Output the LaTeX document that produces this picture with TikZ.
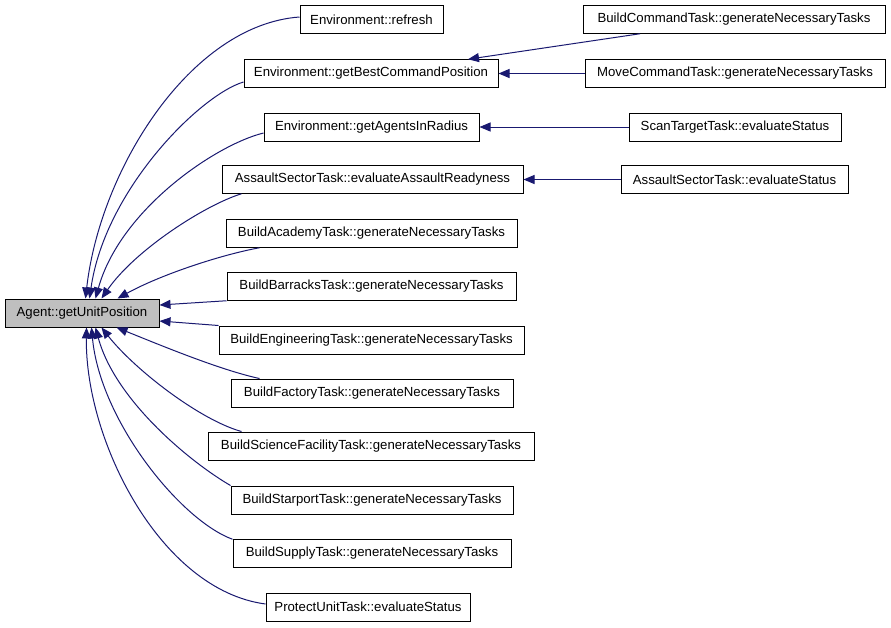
\documentclass[tikz,border=0pt]{standalone}
\usepackage{fontspec}
\setmainfont{Liberation Sans}
\usetikzlibrary{arrows.meta}
\definecolor{edgeblue}{RGB}{25,25,112}
\definecolor{boxgray}{RGB}{191,191,191}
\tikzset{
  box/.style={draw=black, line width=1pt, fill=white, inner sep=0pt, minimum height=27.5pt,
    font=\fontsize{13.2}{15}\selectfont},
  edge/.style={draw=edgeblue, line width=1pt, -{Triangle[length=11pt,width=9pt]}, fill=none},
}
\begin{document}
\begin{tikzpicture}[x=1pt,y=-1pt]
\useasboundingbox (0,0) rectangle (891,627);
% nodes
\node[box, fill=boxgray, minimum width=154pt, minimum height=28pt] (ag) at (82,313) {Agent::getUnitPosition};
\node[box, minimum width=143pt] (ref) at (371.5,19.5) {Environment::refresh};
\node[box, minimum width=254pt] (gbc) at (371,73.5) {Environment::getBestCommandPosition};
\node[box, minimum width=302pt] (bct) at (734,19.5) {BuildCommandTask::generateNecessaryTasks};
\node[box, minimum width=300pt] (mct) at (735,73.5) {MoveCommandTask::generateNecessaryTasks};
\node[box, minimum width=215pt, minimum height=28pt] (air) at (371.5,127) {Environment::getAgentsInRadius};
\node[box, minimum width=301pt] (asr) at (372.5,179.5) {AssaultSectorTask::evaluateAssaultReadyness};
\node[box, minimum width=212pt, minimum height=28pt] (stt) at (735,127) {ScanTargetTask::evaluateStatus};
\node[box, minimum width=227pt] (ase) at (734.5,179.5) {AssaultSectorTask::evaluateStatus};
\node[box, minimum width=291pt] (aca) at (371.5,233.5) {BuildAcademyTask::generateNecessaryTasks};
\node[box, minimum width=289pt] (bar) at (371.5,286.5) {BuildBarracksTask::generateNecessaryTasks};
\node[box, minimum width=305pt, minimum height=28pt] (eng) at (371.5,340) {BuildEngineeringTask::generateNecessaryTasks};
\node[box, minimum width=282pt, minimum height=28pt] (fac) at (372,393) {BuildFactoryTask::generateNecessaryTasks};
\node[box, minimum width=326pt, minimum height=28pt] (sci) at (371,446) {BuildScienceFacilityTask::generateNecessaryTasks};
\node[box, minimum width=282pt, minimum height=28pt] (sta) at (372,500) {BuildStarportTask::generateNecessaryTasks};
\node[box, minimum width=278pt] (sup) at (372,553.5) {BuildSupplyTask::generateNecessaryTasks};
\node[box, minimum width=204pt, minimum height=28pt] (pro) at (368,607) {ProtectUnitTask::evaluateStatus};
% right-side edges
\draw[edge] ([xshift=-94pt]bct.south) -- ([xshift=97pt]gbc.north);
\draw[edge] (mct.west) -- (gbc.east);
\draw[edge] (stt.west) -- (air.east);
\draw[edge] (ase.west) -- (asr.east);
% edges into Agent top
\draw[edge] ([yshift=2.5pt]ref.west) .. controls (190,25) and (100,170) .. ([xshift=81pt]ag.north west);
\draw[edge] ([yshift=-8.5pt]gbc.west) .. controls (200,95) and (105,190) .. ([xshift=85pt]ag.north west);
\draw[edge] ([yshift=-6pt]air.west) .. controls (215,145) and (120,210) .. ([xshift=91pt]ag.north west);
\draw[edge] ([xshift=20pt]asr.south west) .. controls (205,205) and (135,250) .. ([xshift=97pt]ag.north west);
\draw[edge] ([xshift=34pt]aca.south west) .. controls (220,255) and (160,275) .. ([xshift=113pt]ag.north west);
% edges into Agent side
\draw[edge] (bar.south west) -- ([yshift=8pt]ag.east);
\draw[edge] (eng.north west) -- ([yshift=-8pt]ag.east);
% edges into Agent bottom
\draw[edge] ([xshift=29pt]fac.north west) .. controls (220,370) and (160,345) .. ([xshift=112pt]ag.south west);
\draw[edge] ([xshift=34pt]sci.north west) .. controls (200,420) and (135,370) .. ([xshift=97pt]ag.south west);
\draw[edge] (sta.north west) .. controls (190,462) and (115,400) .. ([xshift=91pt]ag.south west);
\draw[edge] (sup.north west) .. controls (180,520) and (100,420) .. ([xshift=87pt]ag.south west);
\draw[edge] ([yshift=3pt]pro.west) .. controls (160,590) and (85,440) .. ([xshift=82pt]ag.south west);
\end{tikzpicture}
\end{document}
